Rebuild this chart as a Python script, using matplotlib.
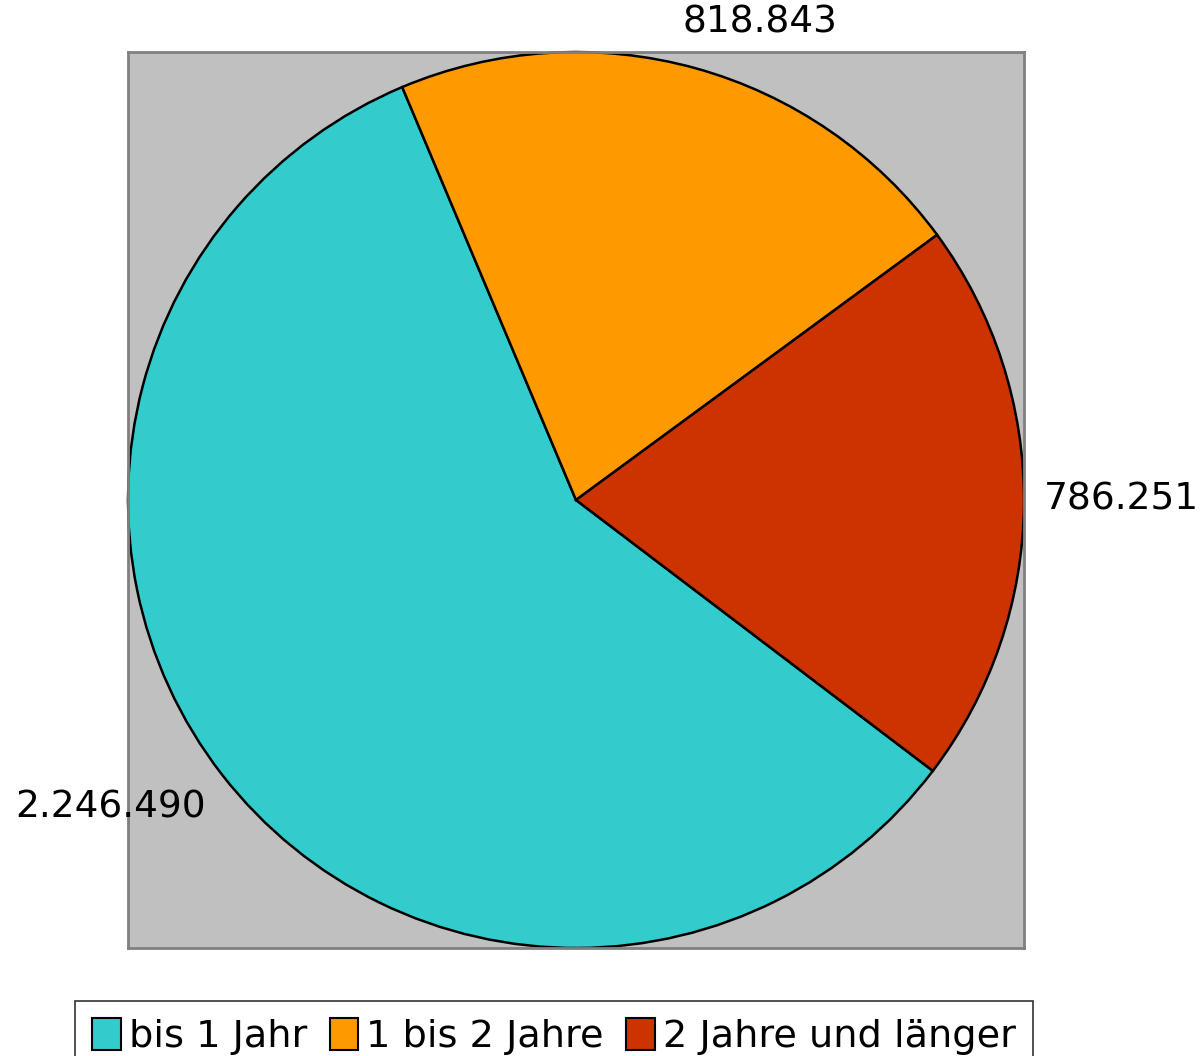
import matplotlib.pyplot as plt
from matplotlib.patches import Patch

categories = ['bis 1 Jahr', '1 bis 2 Jahre', '2 Jahre und länger']
values = [2246490, 818843, 786251]
value_labels = ['2.246.490', '818.843', '786.251']
colors = ['#33CCCC', '#FF9900', '#CC3300']

fig = plt.figure(figsize=(12, 10.56), dpi=100)
ax = fig.add_axes([128 / 1200, 108 / 1056, 896 / 1200, 896 / 1056])

wedges, _ = ax.pie(values, colors=colors, startangle=-37.2, counterclock=False,
                   radius=1, wedgeprops=dict(edgecolor='black', linewidth=1.8))
ax.set_xlim(-1, 1)
ax.set_ylim(-1, 1)
ax.set_aspect('auto')
ax.set_frame_on(True)
ax.set_facecolor('#C0C0C0')
ax.set_xticks([])
ax.set_yticks([])
for s in ax.spines.values():
    s.set_visible(True)
    s.set_color('#808080')
    s.set_linewidth(2)

# label positions (data coords, radius 1 = 448 px)
label_pos = [(-1.04, -0.687), (0.41, 1.066), (1.045, 0.0)]
label_ha = ['center', 'center', 'left']
for txt, (x, y), ha in zip(value_labels, label_pos, label_ha):
    ax.text(x, y, txt, ha=ha, va='center', fontsize=27, clip_on=False)

handles = [Patch(facecolor=c, edgecolor='black', linewidth=1.5) for c in colors]
leg = fig.legend(handles, categories, loc='upper center', bbox_to_anchor=(554 / 1200, 1 - 1001 / 1056),
                 ncol=3, fontsize=27.5, frameon=True, fancybox=False, edgecolor='black',
                 handlelength=0.75, handleheight=0.9, handletextpad=0.2, columnspacing=0.6,
                 borderpad=0.45, borderaxespad=0)
leg.get_frame().set_linewidth(1.2)

fig.savefig('out.png', dpi=100)
